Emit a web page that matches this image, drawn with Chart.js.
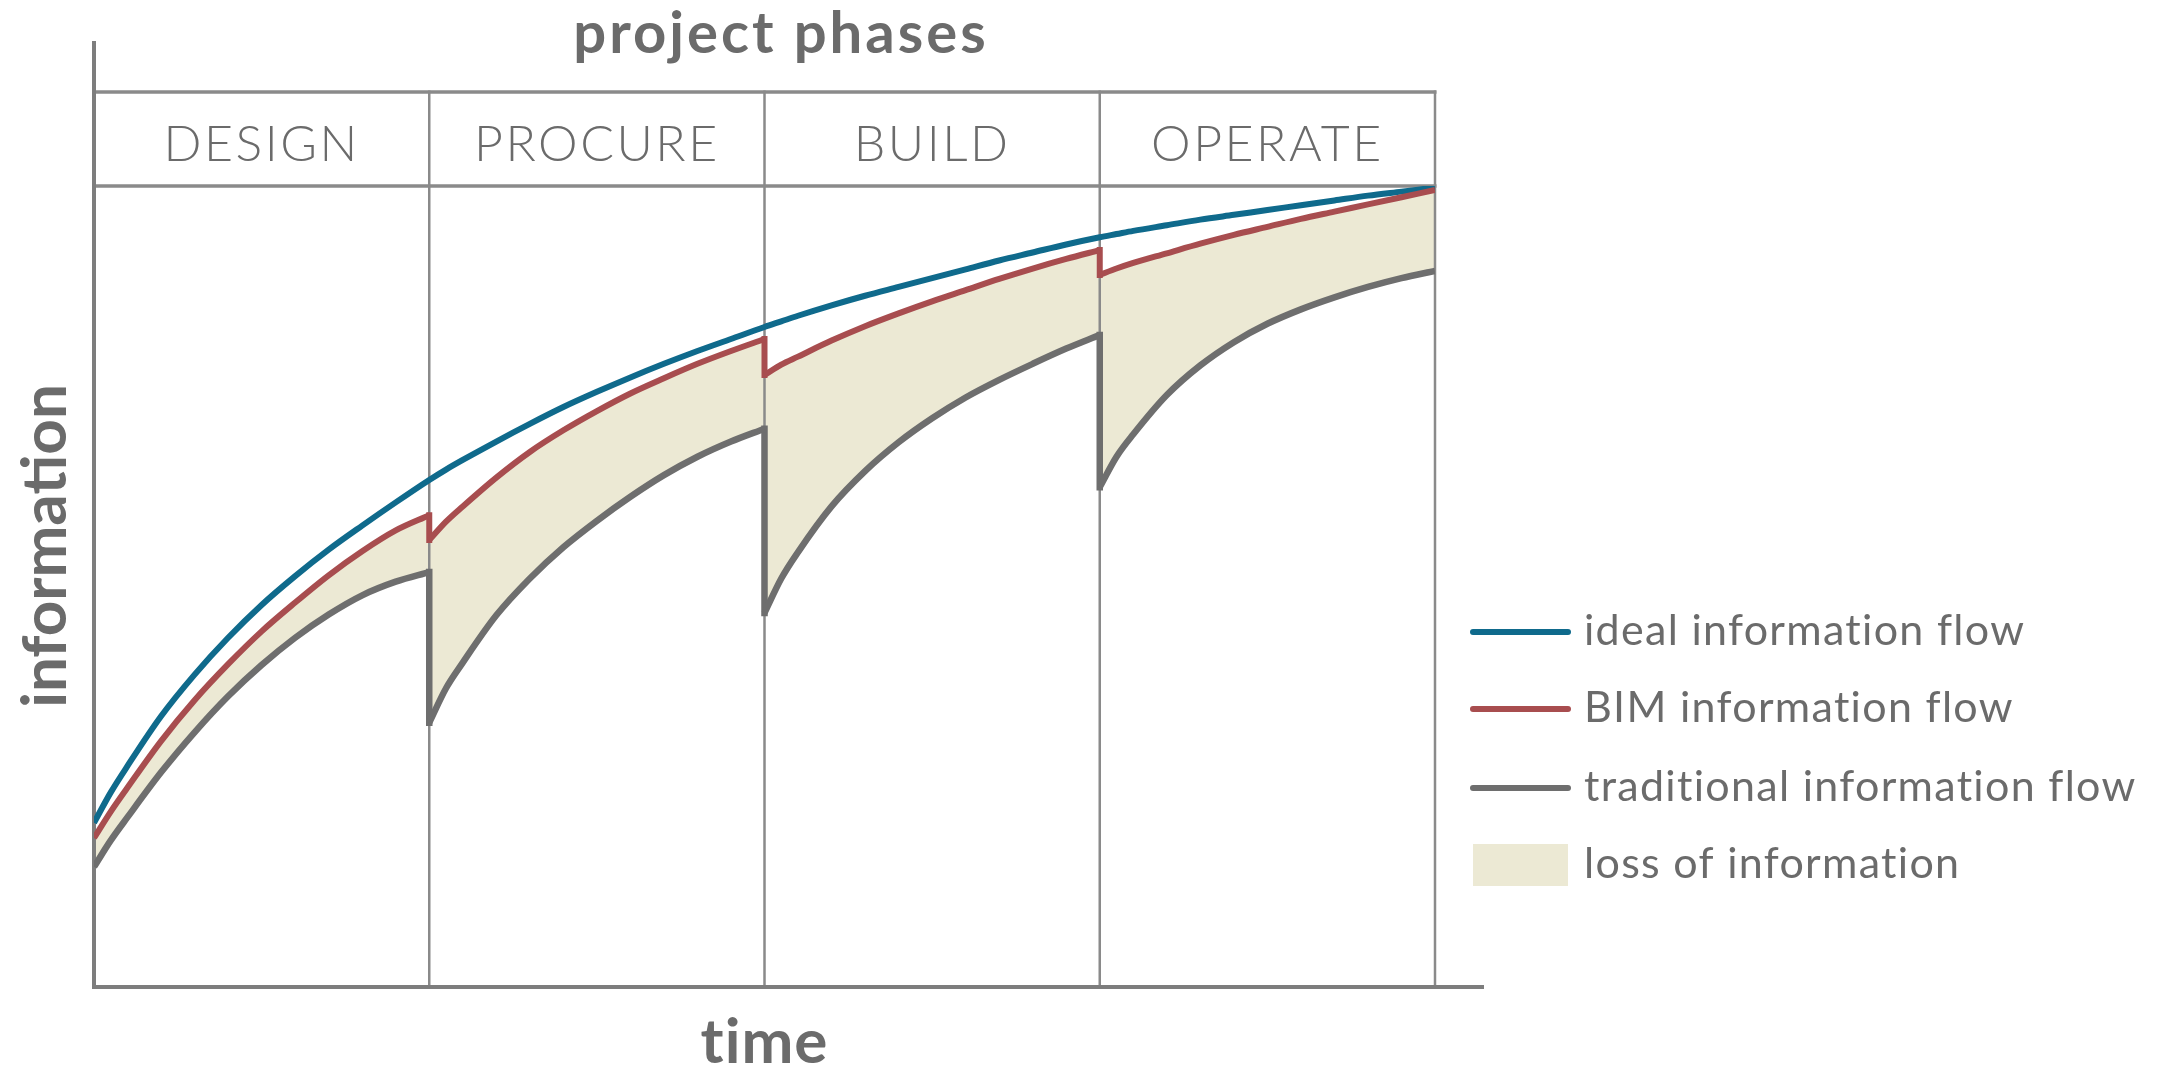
<!DOCTYPE html>
<html>
<head>
<meta charset="utf-8">
<title>Information flow across project phases</title>
<script src="https://cdn.jsdelivr.net/npm/chart.js@4.4.1/dist/chart.umd.min.js"></script>
<style>
    html, body { margin: 0; padding: 0; background: #ffffff; }
    #flowChart { display: block; }
</style>
</head>
<body>
<canvas id="flowChart" width="2159" height="1065"></canvas>
<script>
const phaseNames = ["DESIGN", "PROCURE", "BUILD", "OPERATE"];
const phaseSteps = [0, 0.05, 0.1, 0.2, 0.3, 0.4, 0.5, 0.6, 0.7, 0.8, 0.9, 1];

// one row per phase (0 = time axis, 100 = top of the plot)
const idealFlow = [
    [20.5, 24.3, 27.6, 33.8, 39.0, 43.6, 47.7, 51.3, 54.6, 57.6, 60.5, 63.3],
    [63.3, 64.6, 65.8, 68.1, 70.3, 72.4, 74.3, 76.1, 77.8, 79.4, 80.9, 82.4],
    [82.4, 83.1, 83.8, 85.1, 86.3, 87.4, 88.5, 89.6, 90.7, 91.7, 92.7, 93.6],
    [93.6, 94.0, 94.4, 95.1, 95.8, 96.4, 97.0, 97.6, 98.2, 98.8, 99.3, 99.8]
];
const bimFlow = [
    [18.6, 21.9, 24.9, 30.7, 35.8, 40.3, 44.4, 48.0, 51.4, 54.4, 57.0, 58.9],
    [55.8, 58.1, 60.0, 63.6, 66.8, 69.5, 71.9, 74.1, 76.0, 77.8, 79.4, 80.9],
    [76.4, 77.7, 78.7, 80.7, 82.5, 84.1, 85.6, 87.0, 88.4, 89.7, 90.9, 92.0],
    [88.9, 89.7, 90.4, 91.6, 92.8, 93.9, 94.9, 95.9, 96.8, 97.7, 98.6, 99.5]
];
const traditionalFlow = [
    [15.0, 18.3, 21.2, 26.8, 31.8, 36.3, 40.2, 43.6, 46.5, 48.9, 50.6, 51.8],
    [33.0, 37.3, 40.5, 46.4, 51.0, 54.9, 58.2, 61.2, 63.9, 66.2, 68.1, 69.7],
    [46.7, 51.0, 54.3, 60.0, 64.4, 68.0, 71.0, 73.6, 75.8, 77.8, 79.7, 81.4],
    [62.4, 66.2, 69.0, 73.9, 77.6, 80.5, 82.8, 84.6, 86.1, 87.4, 88.5, 89.4]
];

const legendLabels = ["ideal information flow", "BIM information flow", "traditional information flow", "loss of information"];
const chartTitle = "project phases";
const xTitle = "time";
const yTitle = "information";

const COLORS = {
    ideal: "#0f6a8c",
    bim: "#a84d4f",
    traditional: "#6e6e6e",
    loss: "#ece9d4",
    text: "#6b6b6b",
    rule: "#8a8a8a",
    axis: "#7d7d7d"
};

function phasePoints(values, phase) {
    return phaseSteps.map((s, i) => ({ x: phase + s, y: values[i] }));
}

// vertical drops where a phase hands over to the next one
function dropPoints(rows) {
    const pts = [];
    for (let p = 1; p < rows.length; p++) {
        pts.push({ x: p, y: rows[p - 1][rows[p - 1].length - 1] });
        pts.push({ x: p, y: rows[p][0] });
        pts.push({ x: p, y: null });
    }
    return pts;
}

const curve = {
    pointRadius: 0,
    pointHoverRadius: 0,
    cubicInterpolationMode: "monotone",
    borderJoinStyle: "round"
};

const datasets = [];
const GRAY_FIRST = 6;

bimFlow.forEach((vals, p) => {
    datasets.push({
        ...curve,
        label: legendLabels[1],
        data: phasePoints(vals, p),
        borderColor: COLORS.bim,
        borderWidth: 6,
        backgroundColor: COLORS.loss,
        fill: { target: GRAY_FIRST + p }
    });
});
datasets.push({
    ...curve,
    label: legendLabels[1],
    data: dropPoints(bimFlow),
    borderColor: COLORS.bim,
    borderWidth: 6,
    borderCapStyle: "square",
    fill: false
});

let idealPoints = [];
idealFlow.forEach((vals, p) => {
    const pts = phasePoints(vals, p);
    idealPoints = idealPoints.concat(p === 0 ? pts : pts.slice(1));
});
datasets.push({
    ...curve,
    label: legendLabels[0],
    data: idealPoints,
    borderColor: COLORS.ideal,
    borderWidth: 6,
    fill: false
});

traditionalFlow.forEach((vals, p) => {
    datasets.push({
        ...curve,
        label: legendLabels[2],
        data: phasePoints(vals, p),
        borderColor: COLORS.traditional,
        borderWidth: 6.5,
        fill: false
    });
});
datasets.push({
    ...curve,
    label: legendLabels[2],
    data: dropPoints(traditionalFlow),
    borderColor: COLORS.traditional,
    borderWidth: 6.5,
    borderCapStyle: "square",
    fill: false
});

function strokeLine(ctx, x1, y1, x2, y2) {
    ctx.beginPath();
    ctx.moveTo(x1, y1);
    ctx.lineTo(x2, y2);
    ctx.stroke();
}

const decorations = {
    id: "decorations",
    beforeDatasetsDraw(chart) {
        const { ctx, scales: { x, y } } = chart;
        const left = x.getPixelForValue(0);
        const right = x.getPixelForValue(phaseNames.length);
        const top = y.getPixelForValue(100);
        const bottom = y.getPixelForValue(0);
        const headerTop = top - 94;

        ctx.save();
        ctx.strokeStyle = COLORS.rule;
        ctx.lineWidth = 2.5;
        for (let p = 1; p <= phaseNames.length; p++) {
            const px = x.getPixelForValue(p);
            strokeLine(ctx, px, headerTop - 1.5, px, bottom);
        }
        ctx.lineWidth = 3.5;
        strokeLine(ctx, left, headerTop, right + 1.5, headerTop);
        strokeLine(ctx, left, top, right + 1.5, top);

        ctx.strokeStyle = COLORS.axis;
        ctx.lineWidth = 4;
        strokeLine(ctx, left, 41, left, bottom + 2);
        strokeLine(ctx, left - 2, bottom, right + 49, bottom);
        ctx.restore();
    },
    afterDatasetsDraw(chart) {
        const { ctx, scales: { x, y } } = chart;
        const left = x.getPixelForValue(0);
        const right = x.getPixelForValue(phaseNames.length);
        const bottom = y.getPixelForValue(0);

        ctx.save();
        ctx.fillStyle = COLORS.text;
        ctx.textAlign = "center";
        ctx.textBaseline = "alphabetic";

        ctx.font = "bold 58px Lato";
        ctx.letterSpacing = "3px";
        ctx.fillText(chartTitle, 781, 53);

        ctx.font = "300 50px Lato";
        ctx.letterSpacing = "2.5px";
        phaseNames.forEach((name, p) => {
            ctx.fillText(name, x.getPixelForValue(p + 0.5), 161);
        });

        ctx.font = "bold 62px Lato";
        ctx.letterSpacing = "1px";
        ctx.fillText(xTitle, (left + right) / 2, bottom + 76);

        ctx.letterSpacing = "0px";
        ctx.save();
        ctx.translate(66, 546);
        ctx.rotate(-Math.PI / 2);
        ctx.fillText(yTitle, 0, 0);
        ctx.restore();

        // legend
        const rows = [632, 709, 788, 865];
        const lineColors = [COLORS.ideal, COLORS.bim, COLORS.traditional];
        ctx.lineCap = "round";
        ctx.lineWidth = 6;
        lineColors.forEach((c, i) => {
            ctx.strokeStyle = c;
            strokeLine(ctx, 1473, rows[i], 1568, rows[i]);
        });
        ctx.fillStyle = COLORS.loss;
        ctx.fillRect(1473, rows[3] - 21, 95, 42);

        ctx.fillStyle = COLORS.text;
        ctx.textAlign = "left";
        ctx.font = "43px Lato";
        ctx.letterSpacing = "1.3px";
        legendLabels.forEach((label, i) => {
            ctx.fillText(label, 1584, rows[i] + 13);
        });
        ctx.restore();
    }
};

new Chart(document.getElementById("flowChart"), {
    type: "line",
    data: { datasets: datasets },
    options: {
        responsive: false,
        animation: false,
        devicePixelRatio: 1,
        events: [],
        layout: {
            padding: { left: 94, top: 186, right: 724, bottom: 78 }
        },
        scales: {
            x: { type: "linear", min: 0, max: phaseNames.length, display: false },
            y: { type: "linear", min: 0, max: 100, display: false }
        },
        plugins: {
            legend: { display: false },
            tooltip: { enabled: false },
            filler: { drawTime: "beforeDatasetsDraw" }
        }
    },
    plugins: [decorations]
});
</script>
</body>
</html>
